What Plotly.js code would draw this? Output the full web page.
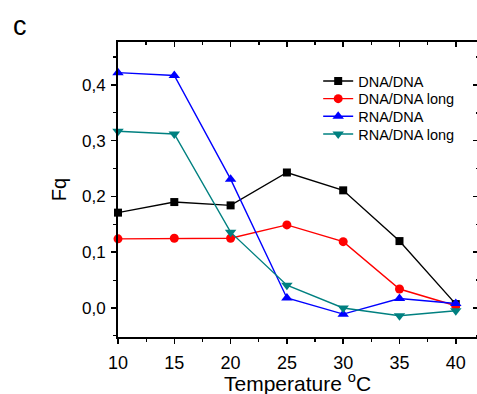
<!DOCTYPE html>
<html>
<head>
<meta charset="utf-8">
<script src="https://cdn.plot.ly/plotly-3.0.1.min.js"></script>
<style>html,body{margin:0;padding:0;background:#fff;overflow:hidden;}#chart{width:480px;height:394px;}</style>
</head>
<body>
<div id="chart"></div>
<script>
const temperatures = [10, 15, 20, 25, 30, 35, 40];
const dnaDna = [0.171, 0.190, 0.184, 0.243, 0.211, 0.120, 0.007];
const dnaDnaLong = [0.124, 0.125, 0.125, 0.149, 0.119, 0.034, 0.004];
const rnaDna = [0.422, 0.417, 0.231, 0.018, -0.011, 0.017, 0.008];
const rnaDnaLong = [0.317, 0.312, 0.136, 0.041, 0.000, -0.014, -0.005];
const seriesNames = ['DNA/DNA', 'DNA/DNA long', 'RNA/DNA', 'RNA/DNA long'];
const yTicks = [0, 0.1, 0.2, 0.3, 0.4];
const xTitle = 'Temperature <sup>o</sup>C';
const yTitle = 'Fq';
const panelLabel = 'c';

const xRange = [10, 42.15];
const yRange = [-0.052, 0.477];

function series(name, y, color, symbol, size, legendId) {
  return {
    x: temperatures, y: y, name: name, type: 'scatter', mode: 'lines+markers',
    line: {color: color, width: 1.4},
    marker: {color: color, symbol: symbol, size: size},
    cliponaxis: false, legend: legendId
  };
}

const traces = [
  series(seriesNames[0], dnaDna, '#000000', 'square', 8, 'legend'),
  series(seriesNames[1], dnaDnaLong, '#ff0000', 'circle', 9, 'legend2'),
  series(seriesNames[2], rnaDna, '#0000ff', 'triangle-up', 10, 'legend3'),
  series(seriesNames[3], rnaDnaLong, '#008080', 'triangle-down', 10, 'legend4'),
  {x: [], y: [], xaxis: 'x2', yaxis: 'y2', showlegend: false, type: 'scatter'}
];

const font = {family: 'Liberation Sans, Arial, sans-serif', color: '#000'};

function legendAt(rowY) {
  return {
    x: 0.553, y: (337 - rowY) / 295, xanchor: 'left', yanchor: 'middle',
    font: Object.assign({size: 14.5}, font),
    bgcolor: 'rgba(0,0,0,0)', borderwidth: 0
  };
}

const layout = {
  width: 480, height: 394,
  margin: {l: 118, r: 0, t: 42, b: 57},
  paper_bgcolor: '#fff', plot_bgcolor: '#fff',
  separators: ',.',
  font: Object.assign({size: 17}, font),
  showlegend: true,
  legend: legendAt(81),
  legend2: legendAt(98.7),
  legend3: legendAt(116.3),
  legend4: legendAt(134),
  xaxis: {
    range: xRange, tickvals: temperatures, ticktext: temperatures.map(String),
    ticks: 'outside', ticklen: 5, tickwidth: 1.5, tickcolor: '#000',
    minor: {dtick: 2.5, tick0: 10, ticks: 'outside', ticklen: 3, tickwidth: 1.2, tickcolor: '#000'},
    showline: true, linewidth: 2, linecolor: '#000', showgrid: false, zeroline: false,
    tickfont: Object.assign({size: 18}, font), ticklabelstandoff: 3
  },
  yaxis: {
    range: yRange, tickvals: yTicks, tickformat: '.1f',
    ticks: 'outside', ticklen: 5, tickwidth: 1.5, tickcolor: '#000',
    minor: {dtick: 0.05, tick0: 0, ticks: 'outside', ticklen: 3, tickwidth: 1.2, tickcolor: '#000'},
    showline: true, linewidth: 2, linecolor: '#000', showgrid: false, zeroline: false,
    tickfont: Object.assign({size: 17}, font), ticklabelstandoff: 2,
    title: {text: yTitle, font: Object.assign({size: 20}, font), standoff: 10}
  },
  xaxis2: {
    overlaying: 'x', side: 'top', anchor: 'y2', range: xRange, tickvals: temperatures,
    showticklabels: false, ticks: 'inside', ticklen: 5, tickwidth: 1.5, tickcolor: '#000',
    minor: {dtick: 2.5, tick0: 10, ticks: 'inside', ticklen: 3, tickcolor: '#000'},
    showline: true, linewidth: 2, linecolor: '#000', showgrid: false, zeroline: false
  },
  yaxis2: {
    overlaying: 'y', side: 'right', anchor: 'x2', range: yRange, tickvals: yTicks,
    showticklabels: false, ticks: 'inside', ticklen: 7, tickwidth: 1.5, tickcolor: '#000',
    minor: {dtick: 0.05, tick0: 0, ticks: 'inside', ticklen: 4, tickcolor: '#000'},
    showline: true, linewidth: 2, linecolor: '#000', showgrid: false, zeroline: false
  },
  annotations: [
    {
      text: panelLabel, xref: 'paper', yref: 'paper', x: -0.295, y: 1.055, xanchor: 'left', yanchor: 'middle',
      showarrow: false, font: Object.assign({size: 27}, font)
    },
    {
      text: xTitle, xref: 'paper', yref: 'paper', x: 0.496, y: (337 - 381.5) / 295,
      xanchor: 'center', yanchor: 'middle', showarrow: false,
      font: Object.assign({size: 21}, font)
    }
  ]
};

Plotly.newPlot('chart', traces, layout, {staticPlot: true, displayModeBar: false});
</script>
</body>
</html>
